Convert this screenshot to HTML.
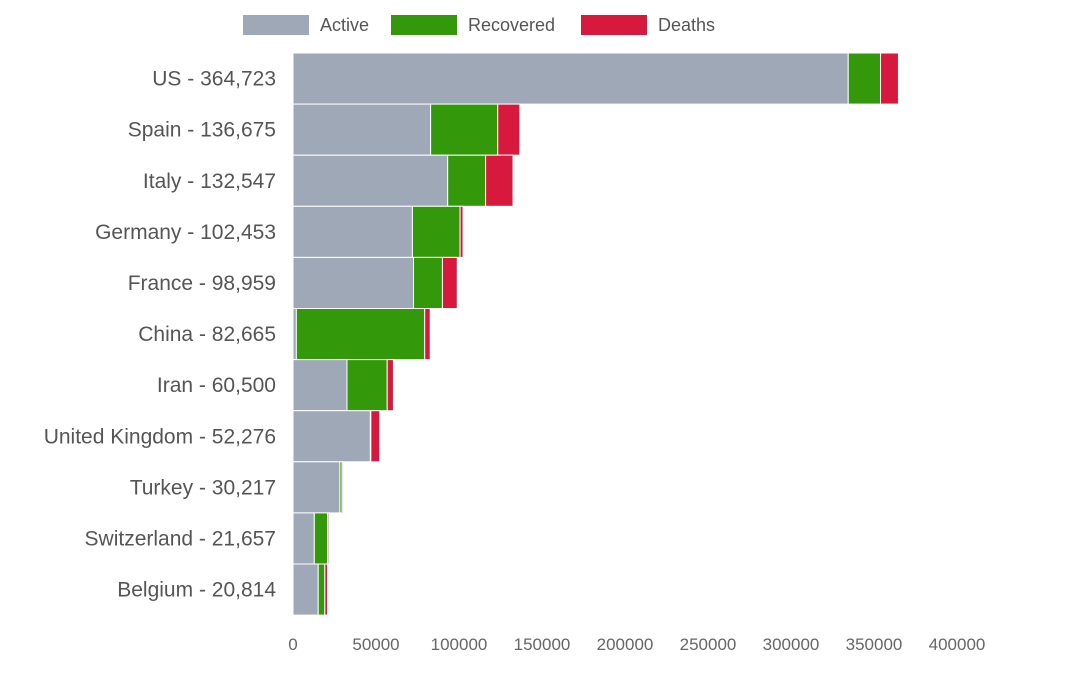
<!DOCTYPE html>
<html><head><meta charset="utf-8"><style>
body{margin:0;background:#fff;width:1080px;height:688px;overflow:hidden;font-family:"Liberation Sans",sans-serif}
</style></head><body>
<svg id="chart" width="1080" height="688" xmlns="http://www.w3.org/2000/svg"></svg>
<script>
const countries=["US","Spain","Italy","Germany","France","China","Iran","United Kingdom","Turkey","Switzerland","Belgium"];
const totals=[364723,136675,132547,102453,98959,82665,60500,52276,30217,21657,20814];
const recovered=[19466,40437,22837,28700,17428,77310,24236,287,1326,8056,3986];
const deaths=[10783,13341,16523,1810,8926,3335,3739,5385,649,765,1632];
const active=totals.map((t,i)=>t-recovered[i]-deaths[i]);
const ticks=[0,50000,100000,150000,200000,250000,300000,350000,400000];
const seriesNames=["Active","Recovered","Deaths"];
const colors=["#9ea8b6","#33990a","#d6193c"];
const NS="http://www.w3.org/2000/svg",svg=document.getElementById('chart');
const x0=293,pxPer=664/400000,top0=53,band=51.1;
const xs=v=>x0+v*pxPer, ys=i=>top0+i*band;
function mk(t,a,p){const e=document.createElementNS(NS,t);for(const k in a)e.setAttribute(k,a[k]);(p||svg).appendChild(e);return e;}
// legend
const legX=[243,391,581];
seriesNames.forEach((n,i)=>{
 const r=mk('rect',{x:legX[i],y:15,width:66,height:20,fill:colors[i]});
 
 
 const t=mk('text',{x:legX[i]+77,y:31,'font-size':18,fill:'#555'});t.textContent=n;
 
 
});
// bars
countries.forEach((c,i)=>{
 const vals=[active[i],recovered[i],deaths[i]];let acc=0;
 vals.forEach((v,j)=>{
  const r=mk('rect',{x:xs(acc),y:ys(i),width:Math.max(0,xs(acc+v)-xs(acc)),height:band,fill:colors[j],stroke:'#fff','stroke-width':1});
  
  
  acc+=v;
 });
 const t=mk('text',{x:276,y:ys(i)+band/2+7,'text-anchor':'end','font-size':21,fill:'#555'});
 t.textContent=c+' - '+totals[i].toLocaleString('en-US');
 
 
});
ticks.forEach(v=>{
 const t=mk('text',{x:xs(v),y:650,'text-anchor':'middle','font-size':17,fill:'#666'});
 t.textContent=v;
 
 
});
</script>
</body></html>
